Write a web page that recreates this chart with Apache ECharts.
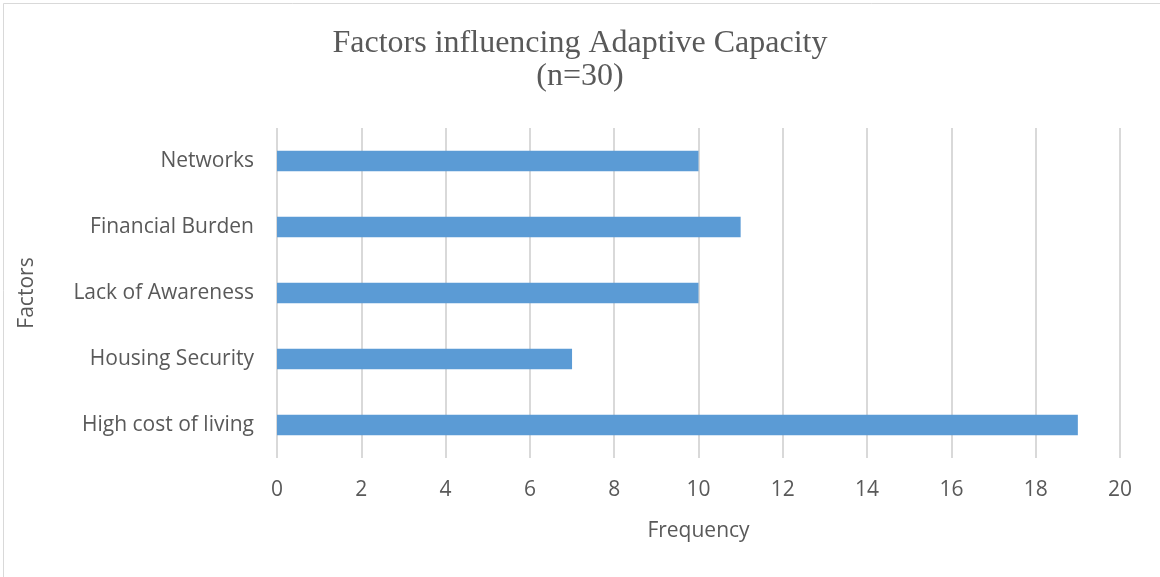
<!DOCTYPE html>
<html>
<head>
<meta charset="utf-8">
<script src="https://cdn.jsdelivr.net/npm/echarts@6/dist/echarts.min.js"></script>
<style>
  html, body { margin: 0; padding: 0; background: #fff; }
  #chart { width: 1160px; height: 577px; }
</style>
</head>
<body>
<div id="chart"></div>
<script>
// Factors listed top to bottom
const factors = ['Networks', 'Financial Burden', 'Lack of Awareness', 'Housing Security', 'High cost of living'];
const frequency = [10, 11, 10, 7, 19];
const titleLines = ['Factors influencing Adaptive Capacity', '(n=30)'];

const textColor = '#595959';
const sansFont = '"Open Sans", "Liberation Sans", sans-serif';

const chart = echarts.init(document.getElementById('chart'));
chart.setOption({
  animation: false,
  backgroundColor: '#ffffff',
  graphic: [{
    type: 'rect',
    left: 1, top: 1,
    shape: { width: 1157, height: 575 },
    style: { fill: 'none', stroke: '#d9d9d9', lineWidth: 1 },
    silent: true
  }],
  title: {
    text: titleLines.join('\n'),
    left: 'center',
    top: 22,
    textStyle: {
      fontFamily: '"Liberation Serif", "Times New Roman", serif',
      fontWeight: 'normal',
      fontSize: 32,
      lineHeight: 33,
      color: textColor
    }
  },
  grid: { left: 277, right: 40, top: 128, bottom: 119 },
  xAxis: {
    type: 'value',
    min: 0, max: 20, interval: 2,
    name: 'Frequency',
    nameLocation: 'middle',
    nameGap: 63,
    nameTextStyle: { fontFamily: sansFont, fontSize: 21, color: textColor },
    axisLine: { show: false },
    axisTick: { show: false },
    axisLabel: { fontFamily: sansFont, fontSize: 21, color: textColor, margin: 22 },
    splitLine: { show: true, lineStyle: { color: '#d9d9d9', width: 2 } }
  },
  yAxis: {
    type: 'category',
    data: factors,
    inverse: true,
    name: 'Factors',
    nameLocation: 'middle',
    nameGap: 239,
    nameTextStyle: { fontFamily: sansFont, fontSize: 21, color: textColor },
    axisLine: { show: false },
    axisTick: { show: false },
    axisLabel: { fontFamily: sansFont, fontSize: 21, color: textColor, margin: 23, padding: [3, 0, 0, 0] },
    splitLine: { show: false }
  },
  series: [{
    type: 'bar',
    data: frequency,
    barWidth: '31%',
    itemStyle: { color: '#5b9bd5' }
  }]
});
</script>
</body>
</html>
